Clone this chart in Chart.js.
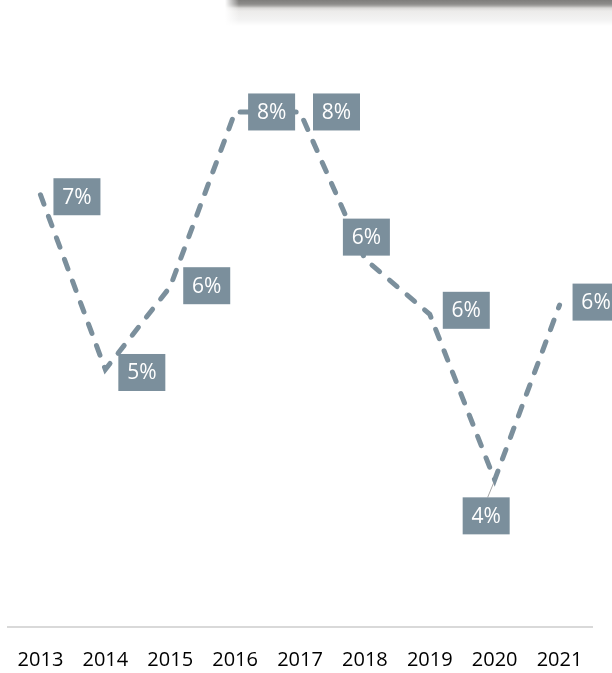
<!DOCTYPE html>
<html>
<head>
<meta charset="utf-8">
<script src="https://cdn.jsdelivr.net/npm/chart.js@4.4.0/dist/chart.umd.min.js"></script>
<style>
  body { margin: 0; background: #fff; }
  #wrap { position: relative; width: 612px; height: 673px; overflow: hidden; }
  #topbar {
    position: absolute; left: 225px; top: 0; width: 387px; height: 26px;
    background: linear-gradient(to bottom, #7e7d7b 0px, #8d8c8a 4px, #a9a8a6 6px, #d9d8d6 8px, #ecebea 11px, #f3f3f3 20px, #ffffff 26px);
  }
  #topbar:before {
    content: ""; position: absolute; left: 0; top: 0; width: 14px; height: 26px;
    background: linear-gradient(to right, #ffffff 0px, rgba(255,255,255,0) 14px);
  }
  canvas { position: absolute; left: 0; top: 0; }
</style>
</head>
<body>
<div id="wrap">
  <div id="topbar"></div>
  <canvas id="myChart" width="612" height="673"></canvas>
</div>
<script>
// Dados
const anos = ["2013", "2014", "2015", "2016", "2017", "2018", "2019", "2020", "2021"];
const valores = [7.1, 5.2, 6.1, 8.0, 8.0, 6.4, 5.8, 4.0, 5.9];
const rotulos = ["7%", "5%", "6%", "8%", "8%", "6%", "6%", "4%", "6%"];

// Posição das caixas em relação ao ponto (dx = borda esquerda, dy = centro)
const deslocamentos = [
  [13, 2], [13, 3], [13, -1], [13, 0], [13, 0],
  [-22, -22], [13, -4], [-32, 36], [13, -3]
];

const corLinha = "#7b8f9c";

// Desenha as caixas dos rótulos por cima da linha
const caixasRotulos = {
  id: "caixasRotulos",
  afterDatasetsDraw(chart) {
    const ctx = chart.ctx;
    const meta = chart.getDatasetMeta(0);
    const w = 47, h = 37;
    ctx.save();
    meta.data.forEach((pt, i) => {
      const [dx, dy] = deslocamentos[i];
      const bx = pt.x + dx;
      const by = pt.y + dy - h / 2;
      // linha de ligação quando a caixa fica longe do ponto
      if (i === 7) {
        ctx.strokeStyle = "#a6a6a6";
        ctx.lineWidth = 1;
        ctx.beginPath();
        ctx.moveTo(pt.x - 1, pt.y + 3);
        ctx.lineTo(pt.x - 7, by);
        ctx.stroke();
      }
      ctx.fillStyle = corLinha;
      ctx.fillRect(bx, by, w, h);
      ctx.fillStyle = "#ffffff";
      ctx.font = "21px 'Open Sans'";
      ctx.textAlign = "center";
      ctx.textBaseline = "middle";
      ctx.fillText(rotulos[i], bx + w / 2, by + h / 2 + 1);
    });
    ctx.restore();
  }
};

const ctx = document.querySelector("#myChart").getContext("2d");
const chart = new Chart(ctx, {
  type: "line",
  data: {
    labels: anos,
    datasets: [
      {
        data: valores,
        borderColor: corLinha,
        borderWidth: 5,
        borderDash: [10, 13],
        borderCapStyle: "round",
        pointRadius: 0,
        tension: 0,
        fill: false,
        clip: false,
      },
    ],
  },
  options: {
    responsive: false,
    animation: false,
    events: [],
    layout: { padding: { left: 8, right: 20, top: 20, bottom: 0 } },
    plugins: {
      legend: { display: false },
      tooltip: { enabled: false },
    },
    scales: {
      x: {
        offset: true,
        grid: { display: false, drawTicks: false },
        border: { display: true, color: "#d9d9d9", width: 2 },
        ticks: {
          color: "#000000",
          font: { family: "'Open Sans'", size: 20 },
          padding: 21,
          maxRotation: 0,
          autoSkip: false,
        },
        afterFit: (escala) => {
          escala.height = 46;
          escala.paddingLeft = 0;
          escala.paddingRight = 0;
        },
      },
      y: {
        display: false,
        min: 2.4,
        max: 9.0,
      },
    },
  },
  plugins: [caixasRotulos],
});
</script>
</body>
</html>
